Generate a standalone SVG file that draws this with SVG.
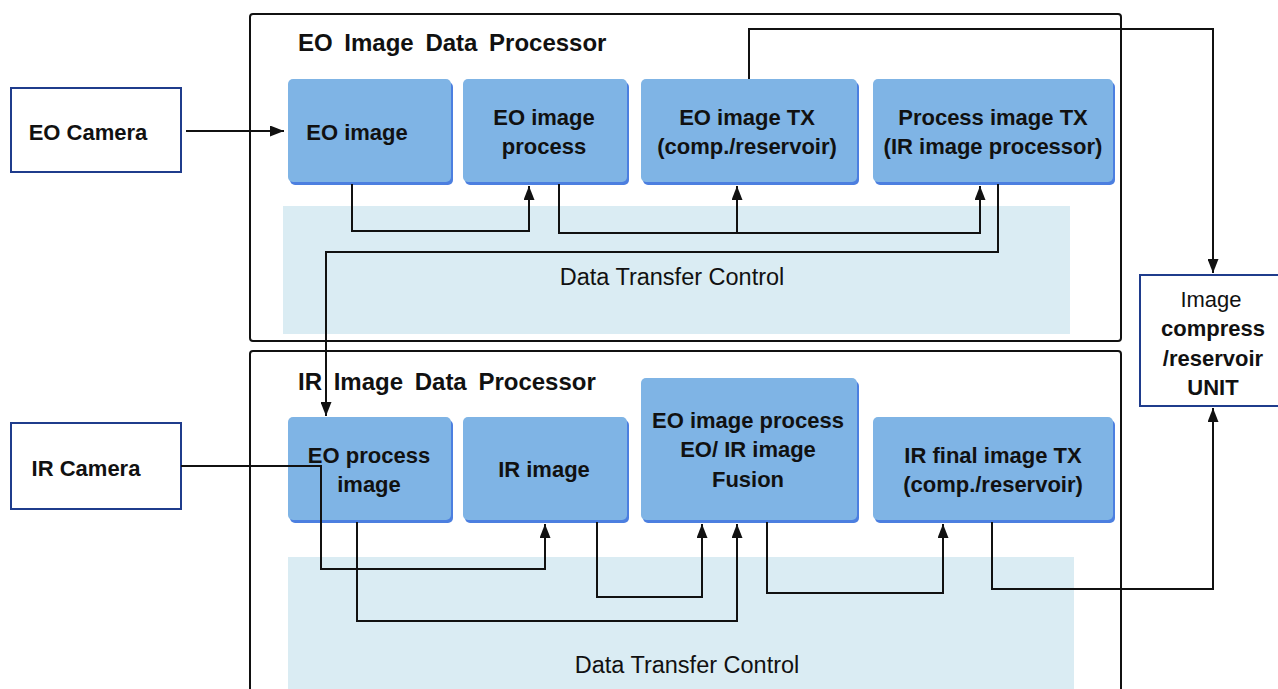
<svg xmlns="http://www.w3.org/2000/svg" width="1278" height="689" viewBox="0 0 1278 689">
<style>
.frame{fill:#ffffff;stroke:#111;stroke-width:2}
.panel{fill:#daecf3}
.bshadow{fill:#4c7fe0}
.box{fill:#7fb4e5}
.cam{fill:#ffffff;stroke:#1f3c8c;stroke-width:2}
.t{font-family:"Liberation Sans",Arial,sans-serif;font-weight:bold;font-size:22px;fill:#111;text-anchor:middle}
.title{font-family:"Liberation Sans",Arial,sans-serif;font-weight:bold;font-size:24px;fill:#111;word-spacing:5px}
.dtc{font-family:"Liberation Sans",Arial,sans-serif;font-size:23.5px;fill:#111;text-anchor:middle}
.light{font-weight:normal}
.c{fill:none;stroke:#111;stroke-width:2}
</style>
<defs>
<marker id="ah" markerUnits="userSpaceOnUse" viewBox="0 0 14 11" markerWidth="14" markerHeight="11" refX="14" refY="5.5" orient="auto">
<path d="M0,0 L14,5.5 L0,11 z" fill="#111"/>
</marker>
</defs>

<g id="eo-processor">
<rect class="frame" x="250" y="14" width="871" height="327" rx="3"/>
<rect class="panel" x="283" y="206" width="787" height="128"/>
<text class="title" x="298" y="51">EO Image Data Processor</text>
<text class="dtc" x="672" y="285">Data Transfer Control</text>
</g>

<g id="ir-processor">
<rect class="frame" x="250" y="351" width="871" height="345" rx="3"/>
<rect class="panel" x="288" y="557" width="786" height="140"/>
<text class="title" x="298" y="390">IR Image Data Processor</text>
<text class="dtc" x="687" y="673">Data Transfer Control</text>
</g>

<g id="eo-camera">
<rect class="cam" x="11" y="88" width="170" height="84"/>
<text class="t" x="88" y="140">EO Camera</text>
</g>

<g id="ir-camera">
<rect class="cam" x="11" y="423" width="170" height="86"/>
<text class="t" x="86" y="476">IR Camera</text>
</g>

<g id="compress-unit">
<rect class="cam" x="1140" y="275" width="145" height="131"/>
<text class="t light" x="1211" y="307">Image</text>
<text class="t" x="1213" y="336">compress</text>
<text class="t" x="1213" y="366">/reservoir</text>
<text class="t" x="1213" y="395">UNIT</text>
</g>

<g id="eo-image">
<rect class="bshadow" x="290" y="82" width="163" height="103" rx="5"/>
<rect class="box" x="288" y="79" width="163" height="103" rx="5"/>
<text class="t" x="357" y="140">EO image</text>
</g>

<g id="eo-image-process">
<rect class="bshadow" x="465" y="82" width="164" height="103" rx="5"/>
<rect class="box" x="463" y="79" width="164" height="103" rx="5"/>
<text class="t" x="544" y="125">EO image</text>
<text class="t" x="544" y="154">process</text>
</g>

<g id="eo-image-tx">
<rect class="bshadow" x="643" y="82" width="216" height="103" rx="5"/>
<rect class="box" x="641" y="79" width="216" height="103" rx="5"/>
<text class="t" x="747" y="125">EO image TX</text>
<text class="t" x="747" y="154">(comp./reservoir)</text>
</g>

<g id="process-image-tx">
<rect class="bshadow" x="875" y="82" width="240" height="103" rx="5"/>
<rect class="box" x="873" y="79" width="240" height="103" rx="5"/>
<text class="t" x="993" y="125">Process image TX</text>
<text class="t" x="993" y="154">(IR image processor)</text>
</g>

<g id="eo-process-image">
<rect class="bshadow" x="290" y="420" width="163" height="103" rx="5"/>
<rect class="box" x="288" y="417" width="163" height="103" rx="5"/>
<text class="t" x="369" y="463">EO process</text>
<text class="t" x="369" y="492">image</text>
</g>

<g id="ir-image">
<rect class="bshadow" x="465" y="420" width="164" height="103" rx="5"/>
<rect class="box" x="463" y="417" width="164" height="103" rx="5"/>
<text class="t" x="544" y="477">IR image</text>
</g>

<g id="fusion">
<rect class="bshadow" x="643" y="381" width="216" height="142" rx="5"/>
<rect class="box" x="641" y="378" width="216" height="142" rx="5"/>
<text class="t" x="748" y="428">EO image process</text>
<text class="t" x="748" y="457">EO/ IR image</text>
<text class="t" x="748" y="487">Fusion</text>
</g>

<g id="ir-final-tx">
<rect class="bshadow" x="875" y="420" width="240" height="103" rx="5"/>
<rect class="box" x="873" y="417" width="240" height="103" rx="5"/>
<text class="t" x="993" y="463">IR final image TX</text>
<text class="t" x="993" y="492">(comp./reservoir)</text>
</g>

<g id="connectors">
<path class="c" d="M186,131 H284" marker-end="url(#ah)"/>
<path class="c" d="M352,184 V231 H529 V186" marker-end="url(#ah)"/>
<path class="c" d="M559,184 V233 H980 V186" marker-end="url(#ah)"/>
<path class="c" d="M737,233 V186" marker-end="url(#ah)"/>
<path class="c" d="M998,184 V252 H326 V416" marker-end="url(#ah)"/>
<path class="c" d="M749,79 V29 H1213 V273" marker-end="url(#ah)"/>
<path class="c" d="M181,466 H321 V569 H545 V524" marker-end="url(#ah)"/>
<path class="c" d="M357,522 V621 H737 V524" marker-end="url(#ah)"/>
<path class="c" d="M597,522 V597 H702 V524" marker-end="url(#ah)"/>
<path class="c" d="M767,522 V593 H943 V524" marker-end="url(#ah)"/>
<path class="c" d="M992,522 V589 H1213 V408" marker-end="url(#ah)"/>
</g>
</svg>
